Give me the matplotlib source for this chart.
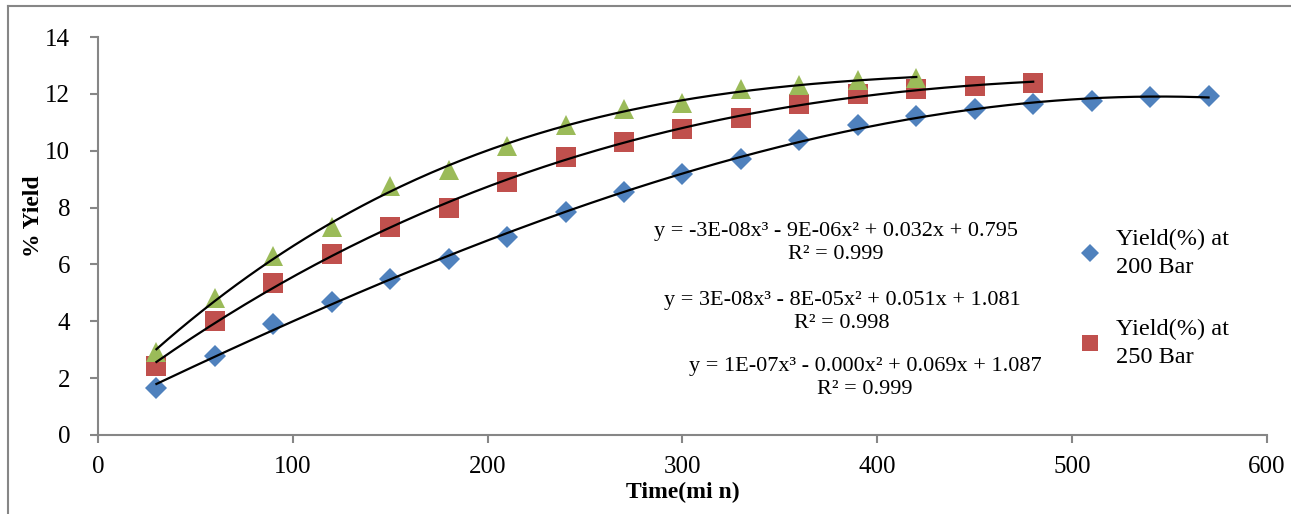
import numpy as np
import matplotlib
matplotlib.use("Agg")
import matplotlib.pyplot as plt
from matplotlib.lines import Line2D

plt.rcParams['font.family'] = ['Liberation Serif', 'DejaVu Serif']

# Extraction time (min) and yield (%) for each pressure
time_200 = [30, 60, 90, 120, 150, 180, 210, 240, 270, 300, 330, 360, 390, 420, 450, 480, 510, 540, 570]
yield_200 = [1.65, 2.78, 3.92, 4.68, 5.49, 6.19, 6.96, 7.84, 8.55, 9.18, 9.71, 10.38, 10.9, 11.22, 11.47, 11.64, 11.75, 11.89, 11.92]

time_250 = [30, 60, 90, 120, 150, 180, 210, 240, 270, 300, 330, 360, 390, 420, 450, 480]
yield_250 = [2.43, 4.0, 5.35, 6.37, 7.32, 7.98, 8.9, 9.78, 10.3, 10.76, 11.15, 11.64, 12.0, 12.17, 12.28, 12.38]

time_300 = [30, 60, 90, 120, 150, 180, 210, 240, 270, 300, 330, 360, 390, 420]
yield_300 = [2.92, 4.82, 6.3, 7.32, 8.76, 9.32, 10.17, 10.9, 11.47, 11.68, 12.17, 12.31, 12.49, 12.56]

labels = ["Yield(%) at\n200 Bar", "Yield(%) at\n250 Bar", "Yield(%) at\n300 Bar"]
equations = [
    "y = -3E-08x³ - 9E-06x² + 0.032x + 0.795\nR² = 0.999",
    "y = 3E-08x³ - 8E-05x² + 0.051x + 1.081\nR² = 0.998",
    "y = 1E-07x³ - 0.000x² + 0.069x + 1.087\nR² = 0.999",
]

colors = ["#4F81BD", "#C0504D", "#9BBB59"]
markers = ["D", "s", "^"]
sizes = [11.5, 14, 15]

fig = plt.figure(figsize=(12.91, 5.14), dpi=100)
ax = fig.add_axes([0.0759, 0.1537, 0.9055, 0.7743])

series = [(time_200, yield_200), (time_250, yield_250), (time_300, yield_300)]
for (t, y), c, m, s in zip(series, colors, markers, sizes):
    ax.plot(t, y, linestyle="none", marker=m, markersize=s, color=c,
            markeredgewidth=0, zorder=2)

# Third-order polynomial trendlines
for t, y in series:
    coef = np.polyfit(t, y, 3)
    xs = np.linspace(min(t), max(t), 200)
    ax.plot(xs, np.polyval(coef, xs), color="black", linewidth=1.6, zorder=3)

ax.set_xlim(0, 600)
ax.set_ylim(0, 14)
ax.set_xticks(range(0, 601, 100))
ax.set_yticks(range(0, 15, 2))

grey = "#868686"
for side in ["top", "right"]:
    ax.spines[side].set_visible(False)
for side in ["left", "bottom"]:
    ax.spines[side].set_color(grey)
    ax.spines[side].set_linewidth(1.5)
ax.tick_params(axis="both", direction="out", length=6, width=1.5, color=grey,
               labelsize=18, labelcolor="black")
ax.tick_params(axis="x", pad=9)
ax.tick_params(axis="y", pad=14)

ax.set_xlabel("Time(mi n)", fontsize=17, fontweight="bold")
ax.set_ylabel("% Yield", fontsize=17, fontweight="bold")
ax.xaxis.set_label_coords((683 - 98) / 1169, (435 - 482) / 398)
ax.yaxis.set_label_coords((44 - 98) / 1169, (435 - 216) / 398)

# Trendline equations
eq_pos = [(836, 243), (842, 312), (865, 378)]
for (px, py), txt in zip(eq_pos, equations):
    fig.text(px / 1291, 1 - py / 514, txt, ha="center", va="center",
             fontsize=16, linespacing=1.35)

handles = [Line2D([], [], linestyle="none", marker=m, markersize=s,
                  color=c, markeredgewidth=0)
           for c, m, s in zip(colors[:2], markers[:2], [9, 11])]
leg = fig.legend(handles, labels[:2], loc="upper left",
                 bbox_to_anchor=(1078 / 1291, 1 - 229 / 514), frameon=False,
                 fontsize=17.5, handletextpad=0.55, labelspacing=1.65,
                 handlelength=1.0, borderaxespad=0, borderpad=0)
for t in leg.get_texts():
    t.set_linespacing(1.45)

# Chart area border (left and top edges)
fig.add_artist(Line2D([8 / 1291, 8 / 1291], [0, 1 - 6 / 514], color=grey,
                      linewidth=1.5, transform=fig.transFigure))
fig.add_artist(Line2D([8 / 1291, 1], [1 - 6 / 514, 1 - 6 / 514], color=grey,
                      linewidth=1.5, transform=fig.transFigure))

fig.savefig("out.png", dpi=100)
